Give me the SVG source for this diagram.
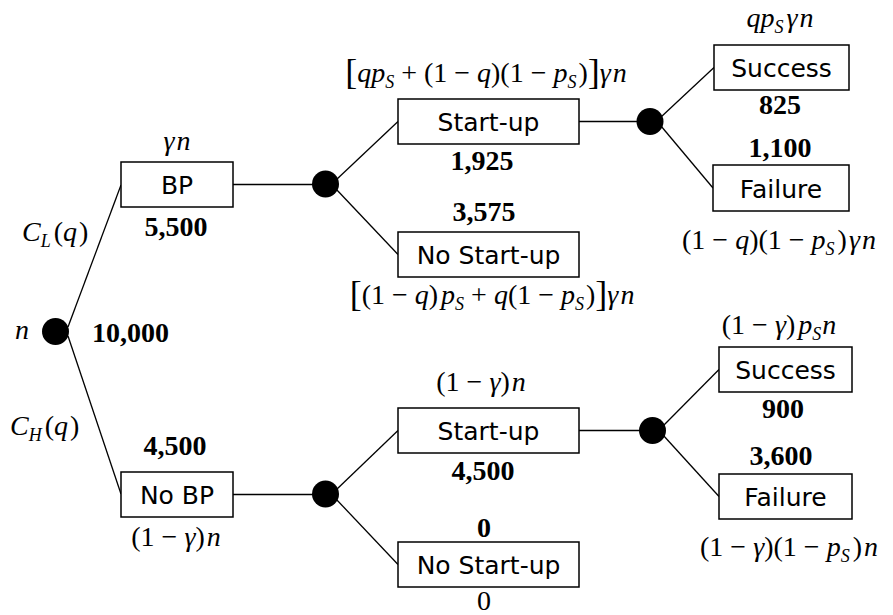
<svg xmlns="http://www.w3.org/2000/svg" width="893" height="615" viewBox="0 0 893 615">
<style>
.box{fill:#fff;stroke:#000;stroke-width:1.5}
.ln{stroke:#000;stroke-width:1.3;fill:none}
.dot{fill:#000}
.lbl{font-family:"DejaVu Sans",Verdana,sans-serif;font-size:25px;text-anchor:middle;fill:#000}
.num{font-family:"Liberation Serif","Times New Roman",serif;font-weight:bold;font-size:28px;text-anchor:middle;fill:#000}
.m{font-family:"Liberation Serif","Times New Roman",serif;font-size:28px;text-anchor:middle;fill:#000;white-space:pre}
.st{text-anchor:start}
.i{font-style:italic}
.s{font-style:italic;font-size:18px}
.br{font-size:36px}
</style>
<rect width="893" height="615" fill="#fff"/>
<g id="connectors">
<line class="ln" x1="68" y1="327" x2="121" y2="185"/>
<line class="ln" x1="68" y1="336" x2="121" y2="494"/>
<line class="ln" x1="233" y1="184.5" x2="314" y2="184.5"/>
<line class="ln" x1="233" y1="494.5" x2="314" y2="494.5"/>
<line class="ln" x1="336" y1="180" x2="398" y2="121.5"/>
<line class="ln" x1="336" y1="189" x2="398" y2="254.5"/>
<line class="ln" x1="336" y1="490" x2="398" y2="430.5"/>
<line class="ln" x1="336" y1="499" x2="398" y2="564.5"/>
<line class="ln" x1="579" y1="121.5" x2="640" y2="121.5"/>
<line class="ln" x1="579" y1="430.5" x2="642" y2="430.5"/>
<line class="ln" x1="661" y1="117" x2="714" y2="67.5"/>
<line class="ln" x1="661" y1="126" x2="713" y2="188"/>
<line class="ln" x1="663" y1="426" x2="719" y2="369.5"/>
<line class="ln" x1="663" y1="435" x2="719" y2="496.5"/>
</g>
<g id="root">
<circle class="dot" cx="55.5" cy="331.5" r="13.5"/>
<text class="m st i" x="15" y="339">n</text>
<text class="num st" x="92" y="342">10,000</text>
<text class="m st" x="22" y="241"><tspan class="i">C</tspan><tspan class="s" dy="6">L</tspan><tspan dx="3" dy="-6">(</tspan><tspan class="i">q</tspan><tspan dx="2">)</tspan></text>
<text class="m st" x="10" y="435"><tspan class="i">C</tspan><tspan class="s" dy="6">H</tspan><tspan dx="3" dy="-6">(</tspan><tspan class="i">q</tspan><tspan dx="2">)</tspan></text>
</g>
<g id="bp">
<rect class="box" x="121" y="162" width="112" height="45"/>
<text class="lbl" x="177" y="194">BP</text>
<text class="m i" x="177" y="150">γ<tspan dx="2">n</tspan></text>
<text class="num" x="176" y="236">5,500</text>
</g>
<g id="nobp">
<rect class="box" x="121" y="472" width="112" height="45"/>
<text class="lbl" x="177" y="504">No BP</text>
<text class="num" x="175" y="455">4,500</text>
<text class="m" x="176" y="546">(1 − <tspan class="i">γ</tspan>)<tspan class="i" dx="2">n</tspan></text>
</g>
<g id="chance-bp"><circle class="dot" cx="325.5" cy="184" r="13.5"/></g>
<g id="chance-nobp"><circle class="dot" cx="325.5" cy="494" r="13.5"/></g>
<g id="startup-bp">
<rect class="box" x="398" y="99" width="181" height="45"/>
<text class="lbl" x="488.5" y="131">Start-up</text>
<text class="m" x="486" y="82"><tspan class="br" dy="2">[</tspan><tspan class="i" dy="-2">qp</tspan><tspan class="s" dy="6">S</tspan><tspan dy="-6"> + (1 − </tspan><tspan class="i">q</tspan>)(1 − <tspan class="i">p</tspan><tspan class="s" dy="6">S</tspan><tspan dy="-6" dx="2">)</tspan><tspan class="br" dy="2">]</tspan><tspan class="i" dy="-2">γ</tspan><tspan class="i" dx="2">n</tspan></text>
<text class="num" x="482" y="170">1,925</text>
</g>
<g id="nostartup-bp">
<rect class="box" x="398" y="232" width="181" height="45"/>
<text class="lbl" x="488.5" y="264">No Start-up</text>
<text class="num" x="484" y="221">3,575</text>
<text class="m" x="492" y="304"><tspan class="br" dy="2">[</tspan><tspan dy="-2">(1 − </tspan><tspan class="i">q</tspan>)<tspan class="i" dx="3">p</tspan><tspan class="s" dy="6">S</tspan><tspan dy="-6"> + </tspan><tspan class="i">q</tspan>(1 − <tspan class="i">p</tspan><tspan class="s" dy="6">S</tspan><tspan dy="-6" dx="2">)</tspan><tspan class="br" dy="2">]</tspan><tspan class="i" dy="-2">γ</tspan><tspan class="i" dx="2">n</tspan></text>
</g>
<g id="startup-nobp">
<rect class="box" x="398" y="408" width="181" height="45"/>
<text class="lbl" x="488.5" y="440">Start-up</text>
<text class="m" x="481" y="391">(1 − <tspan class="i">γ</tspan>)<tspan class="i" dx="2">n</tspan></text>
<text class="num" x="483" y="480">4,500</text>
</g>
<g id="nostartup-nobp">
<rect class="box" x="398" y="542" width="181" height="45"/>
<text class="lbl" x="488.5" y="574">No Start-up</text>
<text class="num" x="484" y="537">0</text>
<text class="m" x="484" y="610">0</text>
</g>
<g id="chance-su1"><circle class="dot" cx="650" cy="121.5" r="13.5"/></g>
<g id="chance-su2"><circle class="dot" cx="652.5" cy="430.5" r="13.5"/></g>
<g id="success1">
<rect class="box" x="714" y="45" width="135" height="45"/>
<text class="lbl" x="781.5" y="77">Success</text>
<text class="m" x="780" y="27"><tspan class="i">qp</tspan><tspan class="s" dy="6">S</tspan><tspan class="i" dy="-6" dx="3">γ</tspan><tspan class="i" dx="2">n</tspan></text>
<text class="num" x="780" y="114">825</text>
</g>
<g id="failure1">
<rect class="box" x="713" y="165" width="136" height="46"/>
<text class="lbl" x="781" y="197.5">Failure</text>
<text class="num" x="780" y="157">1,100</text>
<text class="m" x="779" y="249">(1 − <tspan class="i">q</tspan>)(1 − <tspan class="i">p</tspan><tspan class="s" dy="6">S</tspan><tspan dy="-6" dx="3">)</tspan><tspan class="i" dx="2">γ</tspan><tspan class="i" dx="2">n</tspan></text>
</g>
<g id="success2">
<rect class="box" x="719" y="347" width="133" height="45"/>
<text class="lbl" x="785.5" y="379">Success</text>
<text class="m" x="779" y="334">(1 − <tspan class="i">γ</tspan>)<tspan class="i" dx="3">p</tspan><tspan class="s" dy="6">S</tspan><tspan class="i" dy="-6" dx="1">n</tspan></text>
<text class="num" x="783" y="418">900</text>
</g>
<g id="failure2">
<rect class="box" x="719" y="474" width="133" height="45"/>
<text class="lbl" x="785.5" y="506">Failure</text>
<text class="num" x="781" y="465">3,600</text>
<text class="m" x="789" y="556">(1 − <tspan class="i">γ</tspan>)(1 − <tspan class="i">p</tspan><tspan class="s" dy="6">S</tspan><tspan dy="-6" dx="3">)</tspan><tspan class="i" dx="2">n</tspan></text>
</g>
</svg>
